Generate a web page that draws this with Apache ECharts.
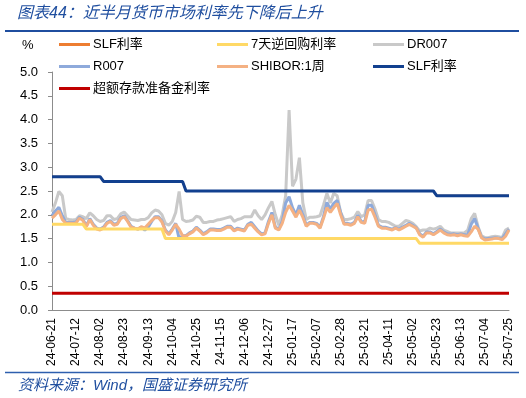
<!DOCTYPE html>
<html>
<head>
<meta charset="utf-8">
<script src="https://cdn.jsdelivr.net/npm/echarts@6/dist/echarts.min.js"></script>
<style>
    html, body { margin: 0; padding: 0; background: #fff; }
    #chart { width: 526px; height: 398px; }
</style>
</head>
<body>
<div id="chart"></div>
<script>
// sample grid: one point every 3 days from 24-06-21 to 25-07-25
var startDate = '2024-06-21';
var stepDays = 3;
var pointCount = 134;
var tickEvery = 7; // label every 21 days

var tickLabels = ['24-06-21', '24-07-12', '24-08-02', '24-08-23', '24-09-13', '24-10-04', '24-10-25',
    '24-11-15', '24-12-06', '24-12-27', '25-01-17', '25-02-07', '25-02-28', '25-03-21', '25-04-11',
    '25-05-02', '25-05-23', '25-06-13', '25-07-04', '25-07-25'];

var dr007 = [
    2.06, 2.25, 2.49, 2.40, 1.92, 1.90, 1.89, 1.90, 1.98, 1.96,
    1.92, 2.04, 1.98, 1.90, 1.86, 1.88, 1.98, 1.98, 1.90, 1.92,
    2.02, 2.06, 1.98, 1.90, 1.89, 1.88, 1.90, 1.90, 1.94, 2.04,
    2.10, 2.08, 2.00, 1.82, 1.78, 1.86, 2.05, 2.49, 1.90, 1.86,
    1.87, 1.89, 1.97, 1.95, 1.84, 1.84, 1.86, 1.86, 1.89, 1.90,
    1.92, 1.94, 1.96, 1.86, 1.90, 1.92, 1.96, 1.96, 1.96, 2.10,
    1.98, 1.90, 2.00, 2.15, 2.28, 2.00, 1.78, 2.00, 2.40, 4.20,
    2.60, 2.75, 3.20, 2.25, 1.90, 1.95, 1.95, 1.96, 1.98, 2.20,
    2.45, 2.25, 2.45, 2.40, 2.05, 1.90, 1.90, 1.92, 1.95, 2.07,
    1.96, 2.00, 2.30, 2.30, 2.12, 1.90, 1.86, 1.86, 1.84, 1.80,
    1.76, 1.76, 1.82, 1.88, 1.86, 1.82, 1.75, 1.66, 1.68, 1.68,
    1.72, 1.70, 1.72, 1.76, 1.68, 1.65, 1.62, 1.62, 1.62, 1.62,
    1.62, 1.68, 1.92, 2.03, 1.75, 1.56, 1.52, 1.52, 1.54, 1.55,
    1.54, 1.52, 1.68, 1.72
];

var r007 = [
    1.98, 2.08, 2.16, 1.98, 1.84, 1.84, 1.84, 1.85, 1.95, 1.90,
    1.77, 1.92, 1.80, 1.72, 1.70, 1.74, 1.84, 1.88, 1.80, 1.82,
    1.94, 1.98, 1.88, 1.76, 1.72, 1.70, 1.74, 1.68, 1.74, 1.86,
    1.96, 1.96, 1.87, 1.68, 1.60, 1.70, 1.82, 1.50, 1.56, 1.56,
    1.62, 1.66, 1.74, 1.68, 1.60, 1.64, 1.70, 1.70, 1.69, 1.69,
    1.72, 1.76, 1.76, 1.68, 1.72, 1.70, 1.68, 1.80, 1.84, 1.75,
    1.66, 1.60, 1.62, 1.86, 2.05, 1.74, 1.70, 1.86, 2.25, 2.38,
    2.15, 2.00, 2.20, 2.00, 1.78, 1.84, 1.84, 1.82, 1.74, 1.96,
    2.26, 2.12, 2.24, 2.30, 2.05, 1.82, 1.82, 1.80, 1.84, 1.99,
    1.86, 1.85, 2.20, 2.20, 2.00, 1.78, 1.74, 1.74, 1.72, 1.70,
    1.73, 1.70, 1.74, 1.78, 1.82, 1.78, 1.73, 1.60, 1.55, 1.64,
    1.64, 1.60, 1.65, 1.70, 1.64, 1.60, 1.59, 1.60, 1.58, 1.60,
    1.58, 1.58, 1.80, 1.92, 1.72, 1.53, 1.49, 1.50, 1.51, 1.52,
    1.51, 1.50, 1.60, 1.70
];

var shibor1w = [
    1.93, 2.00, 2.08, 1.90, 1.82, 1.82, 1.82, 1.83, 1.93, 1.88,
    1.75, 1.90, 1.78, 1.70, 1.68, 1.72, 1.82, 1.86, 1.78, 1.80,
    1.92, 1.96, 1.86, 1.74, 1.72, 1.70, 1.75, 1.72, 1.80, 1.88,
    1.94, 1.94, 1.85, 1.66, 1.58, 1.68, 1.80, 1.70, 1.56, 1.55,
    1.60, 1.64, 1.72, 1.66, 1.58, 1.62, 1.68, 1.68, 1.67, 1.67,
    1.70, 1.74, 1.74, 1.66, 1.70, 1.68, 1.66, 1.78, 1.80, 1.72,
    1.64, 1.58, 1.60, 1.82, 2.00, 1.72, 1.68, 1.82, 2.05, 2.20,
    2.08, 1.95, 2.10, 1.95, 1.76, 1.82, 1.82, 1.80, 1.72, 1.92,
    2.15, 2.05, 2.15, 2.24, 2.00, 1.80, 1.80, 1.78, 1.82, 1.96,
    1.84, 1.82, 2.10, 2.12, 1.95, 1.76, 1.72, 1.72, 1.70, 1.68,
    1.72, 1.68, 1.72, 1.76, 1.80, 1.76, 1.72, 1.58, 1.53, 1.62,
    1.62, 1.58, 1.63, 1.68, 1.62, 1.58, 1.57, 1.58, 1.56, 1.58,
    1.56, 1.55, 1.64, 1.76, 1.70, 1.52, 1.47, 1.48, 1.49, 1.51,
    1.50, 1.48, 1.55, 1.68
];

// policy rates: date of change and new level
var slfDates = ['24-06-21', '24-08-05', '24-10-16', '25-05-23'];
var slfRates = [2.8, 2.7, 2.5, 2.4];
var repoDates = ['24-06-21', '24-07-21', '24-09-28', '25-05-08'];
var repoRates = [1.8, 1.7, 1.5, 1.4];
var excessDates = ['24-06-21'];
var excessRates = [0.35];

var FONT = "'Liberation Sans', 'Noto Sans CJK SC', sans-serif";
var BLUE_TXT = '#1F4E9F';

function pad(n) { return n < 10 ? '0' + n : '' + n; }

function buildCategories() {
    var out = [];
    var t0 = Date.parse(startDate + 'T00:00:00Z');
    for (var i = 0; i < pointCount; i++) {
        var d = new Date(t0 + i * stepDays * 86400000);
        out.push(pad(d.getUTCFullYear() % 100) + '-' + pad(d.getUTCMonth() + 1) + '-' + pad(d.getUTCDate()));
    }
    return out;
}

function stepLevels(cats, dates, rates) {
    return cats.map(function (c) {
        var v = null;
        for (var k = 0; k < dates.length; k++) {
            if (dates[k] <= c) v = rates[k];
        }
        return v;
    });
}

var categories = buildCategories();
var slfLine = stepLevels(categories, slfDates, slfRates);
var repoLine = stepLevels(categories, repoDates, repoRates);
var excessLine = stepLevels(categories, excessDates, excessRates);

function lineSeries(name, color, data, width, z) {
    return {
        name: name,
        type: 'line',
        data: data,
        color: color,
        showSymbol: false,
        symbol: 'none',
        z: z,
        lineStyle: { color: color, width: width },
        emphasis: { disabled: true }
    };
}

function legendAt(name, left, top) {
    return {
        data: [name],
        left: left,
        top: top,
        padding: 0,
        icon: 'rect',
        itemWidth: 31,
        itemHeight: 3,
        itemGap: 0,
        selectedMode: false,
        textStyle: { fontFamily: FONT, fontSize: 13, color: '#000', padding: [0, 0, 0, -2] }
    };
}

var myChart = echarts.init(document.getElementById('chart'), null, { renderer: 'canvas' });

var chartOpt = {
    animation: false,
    backgroundColor: '#fff',
    textStyle: { fontFamily: FONT },
    grid: { left: 52, right: 17, top: 72, bottom: 88 },
    legend: [
        legendAt('SLF利率', 59, 38),
        legendAt('7天逆回购利率', 217, 38),
        legendAt('DR007', 373, 38),
        legendAt('R007', 59, 60),
        legendAt('SHIBOR:1周', 217, 60),
        legendAt('SLF利率 ', 373, 60),
        legendAt('超额存款准备金利率', 59, 82)
    ],
    graphic: [
        {
            type: 'text', left: 17, top: 6,
            style: { text: '图表44：近半月货币市场利率先下降后上升', fill: BLUE_TXT,
                font: 'italic 16px ' + FONT }
        },
        { type: 'line', shape: { x1: 5, y1: 31, x2: 519, y2: 31 },
            style: { stroke: BLUE_TXT, lineWidth: 2 } },
        {
            type: 'text', left: 22, top: 39,
            style: { text: '%', fill: '#000', font: '13px ' + FONT }
        },
        { type: 'line', shape: { x1: 5, y1: 372.5, x2: 519, y2: 372.5 },
            style: { stroke: '#2E5FAE', lineWidth: 1.5 } },
        {
            type: 'text', left: 18, top: 378,
            style: { text: '资料来源：Wind，国盛证券研究所', fill: BLUE_TXT,
                font: 'italic 15px ' + FONT }
        }
    ],
    xAxis: {
        type: 'category',
        data: categories,
        boundaryGap: false,
        axisLine: { lineStyle: { color: '#8C8C8C', width: 1 } },
        axisTick: { show: false },
        axisLabel: {
            interval: function (idx) { return idx % tickEvery === 0; },
            formatter: function (v, idx) { return tickLabels[Math.round(idx / tickEvery)] || v; },
            rotate: 90,
            margin: 8,
            fontSize: 12,
            color: '#000',
            fontFamily: FONT
        },
        splitLine: { show: false }
    },
    yAxis: {
        type: 'value',
        min: 0,
        max: 5,
        interval: 0.5,
        axisLine: { show: true, lineStyle: { color: '#8C8C8C', width: 1 } },
        axisTick: { show: true, length: 4, lineStyle: { color: '#8C8C8C' } },
        axisLabel: {
            formatter: function (v) { return v.toFixed(1); },
            margin: 14,
            fontSize: 13,
            color: '#000',
            fontFamily: FONT
        },
        splitLine: { show: false }
    },
    series: [
        lineSeries('SLF利率', '#ED7D31', slfLine, 2, 1),
        lineSeries('DR007', '#C9C9C9', dr007, 3, 2),
        lineSeries('R007', '#8EAADB', r007, 3, 3),
        lineSeries('SHIBOR:1周', '#F4B183', shibor1w, 3, 4),
        lineSeries('7天逆回购利率', '#FFD966', repoLine, 3, 5),
        lineSeries('SLF利率 ', '#12408F', slfLine, 3, 6),
        lineSeries('超额存款准备金利率', '#C00000', excessLine, 3, 7)
    ]
};

myChart.setOption(chartOpt);
</script>
</body>
</html>
